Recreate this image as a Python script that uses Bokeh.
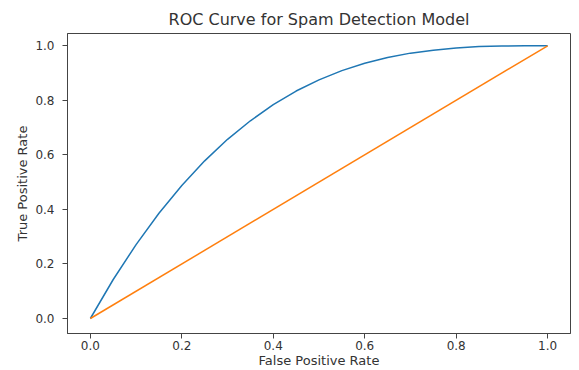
from bokeh.plotting import figure
from bokeh.models import FixedTicker, Range1d, CustomJSTickFormatter
from bokeh.embed import file_html
from bokeh.resources import INLINE

# Data
fpr = [0.0, 0.05, 0.10, 0.15, 0.20, 0.25, 0.30, 0.35, 0.40, 0.45, 0.50,
       0.55, 0.60, 0.65, 0.70, 0.75, 0.80, 0.85, 0.90, 0.95, 1.0]
tpr = [0.0, 0.143, 0.271, 0.386, 0.488, 0.578, 0.657, 0.725, 0.784, 0.834, 0.875,
       0.909, 0.936, 0.957, 0.973, 0.984, 0.992, 0.997, 0.999, 1.0, 1.0]
diag_x = [0.0, 1.0]
diag_y = [0.0, 1.0]
ticks = [0.0, 0.2, 0.4, 0.6, 0.8, 1.0]

FONT = "DejaVu Sans"
TXT = "#333333"

p = figure(width=579, height=370, output_backend="svg", toolbar_location=None,
           x_range=Range1d(-0.05, 1.05), y_range=Range1d(-0.055, 1.045),
           title="ROC Curve for Spam Detection Model",
           min_border_left=67, min_border_right=9, min_border_top=33, min_border_bottom=0)

p.title.align = "center"
p.title.text_font = FONT
p.title.text_font_size = "16px"
p.title.text_font_style = "normal"
p.title.text_color = TXT

p.line(fpr, tpr, line_color="#1f77b4", line_width=1.5)
p.line(diag_x, diag_y, line_color="#ff7f0e", line_width=1.5)

p.xgrid.visible = False
p.ygrid.visible = False
p.outline_line_color = "#444444"
p.outline_line_width = 1
p.outline_line_alpha = 1

fmt = CustomJSTickFormatter(code="return tick.toFixed(1);")
for ax in (p.xaxis[0], p.yaxis[0]):
    ax.ticker = FixedTicker(ticks=ticks)
    ax.formatter = fmt
    ax.minor_tick_line_color = None
    ax.major_tick_in = 0
    ax.major_tick_out = 5
    ax.axis_line_color = "#444444"
    ax.major_tick_line_color = "#444444"
    ax.major_label_text_font = FONT
    ax.major_label_text_font_size = "12px"
    ax.major_label_text_color = TXT
    ax.axis_label_text_font = FONT
    ax.axis_label_text_font_size = "13px"
    ax.axis_label_text_font_style = "normal"
    ax.axis_label_text_color = TXT

p.xaxis.major_label_standoff = 2
p.xaxis.axis_label_standoff = 0
p.yaxis.major_label_standoff = 8
p.yaxis.axis_label_standoff = 2

p.xaxis.axis_label = "False Positive Rate"
p.yaxis.axis_label = "True Positive Rate"

open("out.html", "w").write(file_html(p, INLINE))
